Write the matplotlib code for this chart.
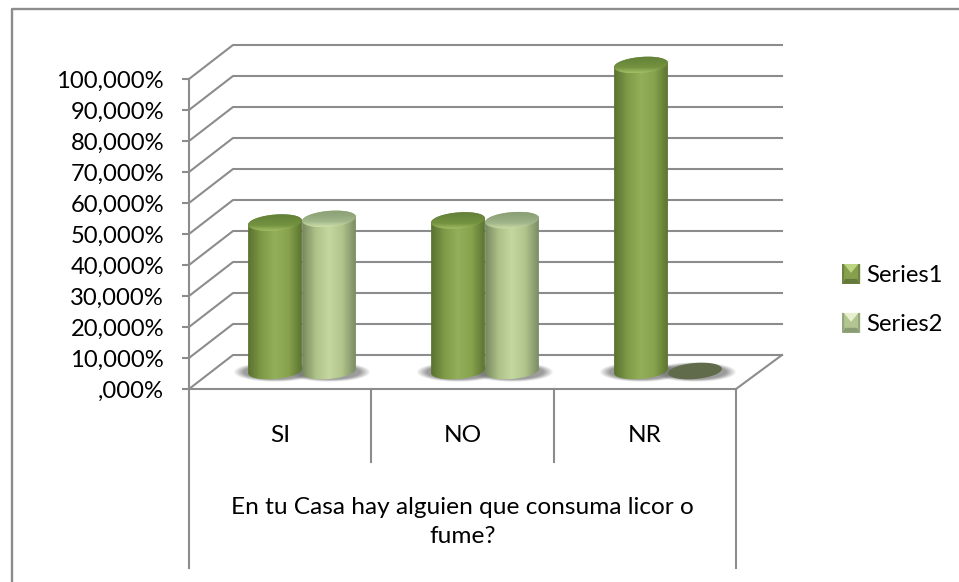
import numpy as np
from matplotlib import pyplot as plt
from matplotlib.colors import to_rgb
from matplotlib.legend_handler import HandlerPatch
from matplotlib.lines import Line2D
from matplotlib.patches import PathPatch, Polygon, Rectangle
from matplotlib.path import Path

categories = ['SI', 'NO', 'NR']
series_names = ['Series1', 'Series2']
series1 = [48.5, 49.2, 100.0]
series2 = [49.7, 49.3, 0.0]
y_values = [0, 10, 20, 30, 40, 50, 60, 70, 80, 90, 100]
y_labels = [',000%', '10,000%', '20,000%', '30,000%', '40,000%', '50,000%',
            '60,000%', '70,000%', '80,000%', '90,000%', '100,000%']
group_title = 'En tu Casa hay alguien que consuma licor o\nfume?'

plt.rcParams['font.family'] = ['Lato', 'DejaVu Sans']
W, H = 959, 582
GREY = '#8c8c8c'
FS = 17.6
FS_TICK = 17.1
FS_LEGEND = 17.2

# stops go left edge -> right edge of a cylinder
body_stops = [['#5a7230', '#7f9b47', '#94af5a', '#88a34e', '#5c7531'],
              ['#78885f', '#adc188', '#c4d79f', '#b0c48b', '#7c8c64']]
cap_stops = [['#64803a', '#6b893c', '#74933f', '#a3c066'],
             ['#8b9f75', '#94a87e', '#a3b78b', '#cddfa8']]
flat_color = '#5f6b4a'


def gradient(stops, n=64):
    rgb = np.array([to_rgb(c) for c in stops])
    pos = np.linspace(0, 1, len(stops))
    t = np.linspace(0, 1, n)
    return np.stack([np.interp(t, pos, rgb[:, i]) for i in range(3)], axis=1)


def axes_px(left, top, right, bottom):
    return fig.add_axes([left / W, 1 - bottom / H, (right - left) / W, (bottom - top) / H])


fig = plt.figure(figsize=(W / 100, H / 100), dpi=100, facecolor='white')

# chart frame, only top and left show
fig.add_artist(Line2D([11.5 / W, 11.5 / W, 1], [0, 1 - 8.5 / H, 1 - 8.5 / H], color=GREY, lw=1.7))

# front plane of the chart
ax = axes_px(189, 79, 736, 389)
ax.set_xlim(0, 3)
ax.set_ylim(0, 100)
ax.patch.set_visible(False)
x_px = 3 / 547
y_px = 100 / 310
dx = 46 * x_px
dy = 34 * y_px

for v in y_values:
    ax.plot([0, 44 * x_px, 3 + dx], [v, v + dy, v + dy], color=GREY, lw=1.5, clip_on=False, zorder=1)
ax.plot([3, 3 + dx], [0, dy], color=GREY, lw=1.5, clip_on=False, zorder=1)

for s in ['top', 'right']:
    ax.spines[s].set_visible(False)
for s in ['left', 'bottom']:
    ax.spines[s].set_color(GREY)
    ax.spines[s].set_linewidth(1.5)
ax.set_yticks(y_values)
ax.set_yticklabels(y_labels, fontsize=FS_TICK, color='black')
ax.tick_params(axis='y', length=5, width=1.5, color=GREY, pad=13)
ax.set_xticks([])

# category table under the axis
for x in range(4):
    bottom = -179 * y_px if x in (0, 3) else -73 * y_px
    ax.plot([x, x], [0, bottom], color=GREY, lw=1.5, clip_on=False)
for i, name in enumerate(categories):
    ax.text(i + 0.5, -46 * y_px, name, ha='center', va='center', fontsize=FS, clip_on=False)
ax.text(1.5, -133 * y_px, group_title, ha='center', va='center', fontsize=FS,
        linespacing=1.47, clip_on=False)

# plane through the middle of the floor, where the cylinders stand
bx = axes_px(210.5, 35, 759.5, 401)
bx.axis('off')
bx.patch.set_visible(False)
bx_x = 3 / 549
bx_y = 100 / 306
half_w = 27
half_h = 8
tilt = np.radians(5)


def ring(cx, v, t):
    px = half_w * np.cos(t) * np.cos(tilt) - half_h * np.sin(t) * np.sin(tilt)
    py = half_w * np.cos(t) * np.sin(tilt) + half_h * np.sin(t) * np.cos(tilt)
    return np.column_stack([cx + px * bx_x, v + py * bx_y])


def shadow(cx):
    xs = np.linspace(-1, 1, 120)
    ys = np.linspace(-1, 1, 60)
    xx, yy = np.meshgrid(xs, ys)
    r = np.sqrt(xx ** 2 + yy ** 2)
    img = np.zeros(r.shape + (4,))
    img[..., :3] = 0.45
    img[..., 3] = 0.7 * np.clip((1 - r) / 0.25, 0, 1)
    ext = [cx - 42 * bx_x, cx + 42 * bx_x, -11 * bx_y, 9 * bx_y]
    bx.imshow(img, extent=ext, aspect='auto', origin='lower', zorder=2, interpolation='bilinear')


def painted(path, img, ext, z):
    im = bx.imshow(img, extent=ext, aspect='auto', origin='lower', zorder=z, interpolation='bilinear')
    patch = PathPatch(path, transform=bx.transData, fc='none', ec='none')
    bx.add_patch(patch)
    im.set_clip_path(patch)


def cylinder(cx, v, s, z):
    if v == 0:
        bx.fill(*ring(cx, 0, np.linspace(0, 2 * np.pi, 60)).T, color=flat_color, zorder=z, lw=0)
        return
    low = ring(cx, 0, np.linspace(np.pi, 2 * np.pi, 40))
    high = ring(cx, v, np.linspace(0, np.pi, 40))
    body = Path(np.vstack([low, high, low[:1]]))
    img = gradient(body_stops[s])[np.newaxis, :, :]
    x0 = cx - half_w * bx_x
    x1 = cx + half_w * bx_x
    painted(body, img, [x0, x1, -10 * bx_y, v + 10 * bx_y], z)
    cap = Path(ring(cx, v, np.linspace(0, 2 * np.pi, 80)))
    img = gradient(cap_stops[s][::-1])[:, np.newaxis, :]
    painted(cap, img, [x0, x1, v - 8.5 * bx_y, v + 8.5 * bx_y], z + 0.5)


centers = np.arange(len(categories)) + 0.5
for c, a, b in zip(centers, series1, series2):
    shadow(c - 27 * bx_x)
    shadow(c + 27 * bx_x)
for c, a, b in zip(centers, series1, series2):
    cylinder(c - 27 * bx_x, a, 0, 3)
    cylinder(c + 27 * bx_x, b, 1, 4)
bx.set_xlim(0, 3)
bx.set_ylim(-30 * bx_y, 100 + 30 * bx_y)


class BevelHandler(HandlerPatch):
    def __init__(self, colors):
        super().__init__()
        self.colors = colors

    def create_artists(self, legend, orig, xd, yd, w, h, fontsize, trans):
        x0, y0, x1, y1 = -xd, -yd, -xd + w, -yd + h
        mx, my = (x0 + x1) / 2, y0 + h * 0.55
        top, side, low, mid = self.colors
        parts = [Rectangle((x0, y0), w, h, fc=mid, ec='none', transform=trans),
                 Polygon([(x0, y0), (x1, y0), (x1 - w * .18, y0 + h * .25), (x0 + w * .18, y0 + h * .25)],
                         fc=low, ec='none', transform=trans),
                 Polygon([(x0, y0), (x0 + w * .12, y0 + h * .2), (x0 + w * .12, y1), (x0, y1)],
                         fc=side, ec='none', transform=trans),
                 Polygon([(x1, y0), (x1 - w * .12, y0 + h * .2), (x1 - w * .12, y1), (x1, y1)],
                         fc=side, ec='none', transform=trans),
                 Polygon([(x0 + w * .1, y1), (x1 - w * .1, y1), (mx, my)], fc=top, ec='none', transform=trans)]
        return parts


h1 = Rectangle((0, 0), 1, 1)
h2 = Rectangle((0, 0), 1, 1)
fig.legend([h1, h2], series_names, loc='upper left', bbox_to_anchor=(842 / W, 1 - 264 / H),
           frameon=False, fontsize=FS_LEGEND, handlelength=0.76, handleheight=0.9, handletextpad=0.24,
           labelspacing=1.12, borderpad=0, borderaxespad=0,
           handler_map={h1: BevelHandler(['#bcd582', '#6d8540', '#64793a', '#86a04e']),
                        h2: BevelHandler(['#e6f0cf', '#93a67c', '#8a9c74', '#b3c590'])})

fig.savefig('out.png', dpi=100)
